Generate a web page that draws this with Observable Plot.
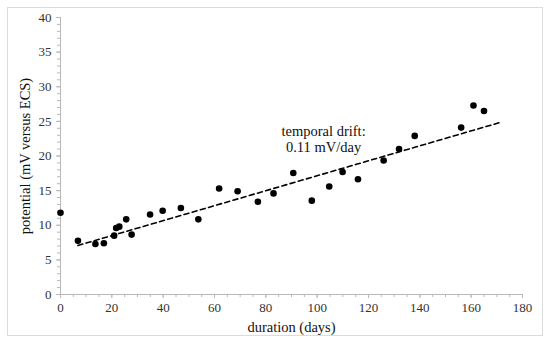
<!DOCTYPE html>
<html>
<head>
<meta charset="utf-8">
<script src="https://cdn.jsdelivr.net/npm/d3@7"></script>
<script src="https://cdn.jsdelivr.net/npm/@observablehq/plot@0.6"></script>
<style>
  html, body { margin: 0; padding: 0; background: #fff; }
  #chart { width: 550px; height: 343px; }
</style>
</head>
<body>
<div id="chart"></div>
<script>
// duration (days)
const days = [0, 6.8, 13.6, 16.9, 20.9, 21.7, 22.9, 25.6, 27.7, 34.9, 39.8, 46.9, 53.7, 61.8, 69.0, 76.9, 83.0, 90.7, 97.9, 104.7, 109.9, 115.9, 125.9, 131.9, 138.0, 156.1, 160.9, 165.0];
// potential (mV versus ECS)
const potential = [11.8, 7.75, 7.3, 7.4, 8.5, 9.6, 9.8, 10.85, 8.65, 11.55, 12.1, 12.5, 10.85, 15.3, 14.9, 13.4, 14.6, 17.55, 13.55, 15.6, 17.7, 16.65, 19.35, 21.0, 22.9, 24.1, 27.3, 26.5];
// linear trend (temporal drift 0.11 mV/day)
const trendDays = [6.8, 171.3];
const trendPotential = [7.08, 24.85];
const xMajorTicks = [0, 20, 40, 60, 80, 100, 120, 140, 160, 180];
const yMajorTicks = [0, 5, 10, 15, 20, 25, 30, 35, 40];
const annotation = "temporal drift:\n0.11 mV/day";

const points = days.map((d, i) => ({x: d, y: potential[i]}));
const trend = trendDays.map((d, i) => ({x: d, y: trendPotential[i]}));

const axisColor = "#b8b8b8";
const font = "'Liberation Serif', 'Times New Roman', serif";

const chart = Plot.plot({
  width: 550,
  height: 343,
  marginLeft: 60,
  marginRight: 28,
  marginTop: 17,
  marginBottom: 49,
  style: {fontFamily: font, background: "#fff", color: "#222"},
  x: {domain: [0, 180]},
  y: {domain: [0, 40]},
  marks: [
    // minor ticks
    Plot.axisX({ticks: d3.range(0, 181, 5), tickSize: 3, text: null, stroke: axisColor, label: null}),
    Plot.axisY({ticks: d3.range(0, 41, 1), tickSize: 3, text: null, stroke: axisColor, label: null}),
    // major ticks & labels
    Plot.axisX({ticks: xMajorTicks, tickSize: 4, tickPadding: 4, stroke: axisColor, fontSize: 13, fill: "#333",
      label: "duration (days)", labelAnchor: "center", labelArrow: "none", labelOffset: 37}),
    Plot.axisY({ticks: yMajorTicks, tickSize: 4, tickPadding: 5, stroke: axisColor, fontSize: 13, fill: "#333",
      label: "potential (mV versus ECS)", labelAnchor: "center", labelArrow: "none", labelOffset: 41}),
    Plot.ruleX([0], {stroke: axisColor}),
    Plot.ruleY([0], {stroke: axisColor}),
    Plot.line(trend, {x: "x", y: "y", stroke: "#000", strokeWidth: 1.6, strokeDasharray: "5,3.5"}),
    Plot.dot(points, {x: "x", y: "y", r: 3.3, fill: "#000", stroke: "none"}),
    Plot.text([annotation], {x: 102.5, y: 22.5, text: d => d, fontSize: 14.5, lineHeight: 1.15, fill: "#111", textAnchor: "middle"})
  ]
});

// outer chart border
d3.select(chart).append("rect")
  .attr("x", 7.5).attr("y", 7.5).attr("width", 535).attr("height", 328)
  .attr("fill", "none").attr("stroke", "#dcdcdc");

// axis title font sizes
d3.select(chart).selectAll("[aria-label='x-axis label'] text, [aria-label='y-axis label'] text")
  .style("font-size", "14.5px").style("fill", "#111");

document.getElementById("chart").appendChild(chart);
</script>
</body>
</html>
